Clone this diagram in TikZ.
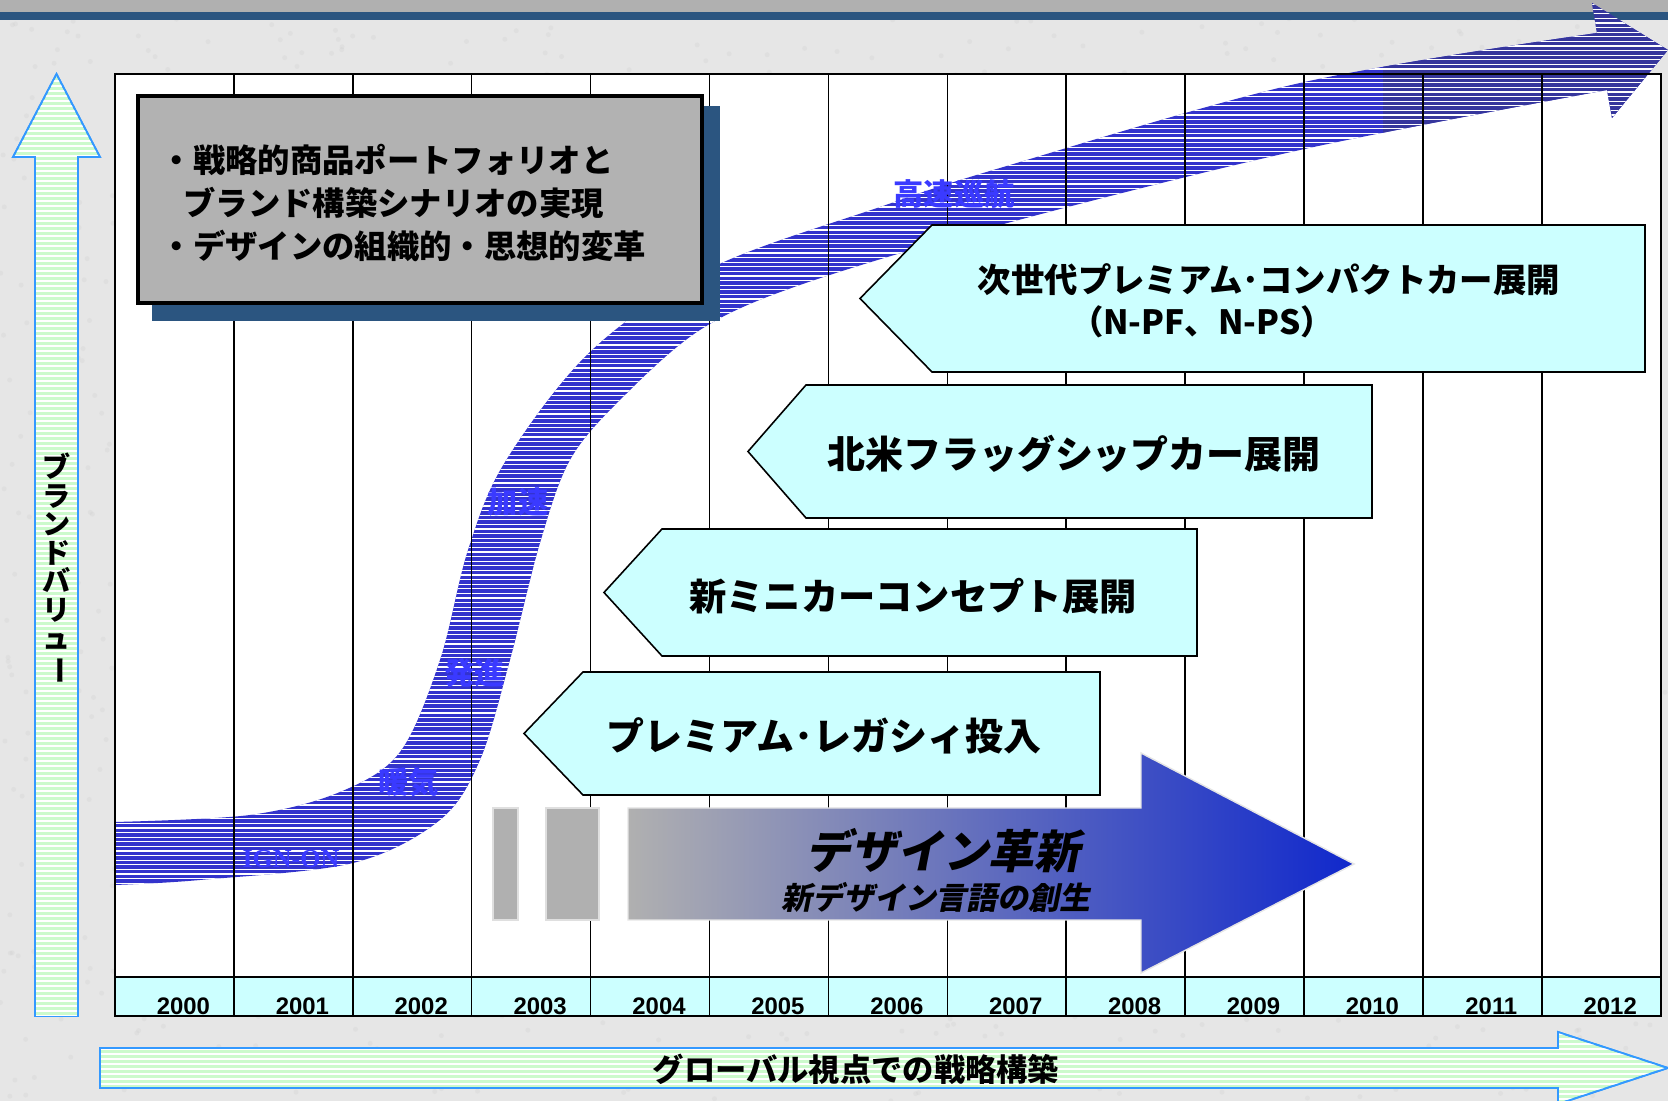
\documentclass[tikz,border=0pt]{standalone}
\usepackage{fontspec}
\setmainfont{Liberation Sans}
\newfontfamily\jp{Noto Sans CJK JP}
\newfontfamily\jpit{Noto Sans CJK JP}[FakeSlant=0.2]
\newfontfamily\romanfont{Liberation Serif}
\usepackage{graphicx}
\usepackage{tikz}
\definecolor{bgGray}{RGB}{230,230,230}
\definecolor{barGray}{RGB}{176,176,176}
\definecolor{barNavy}{RGB}{43,85,128}
\definecolor{valGreen}{RGB}{204,250,204}
\definecolor{valEdge}{RGB}{51,153,255}
\definecolor{stepCyan}{RGB}{204,255,255}
\definecolor{bandBlue}{RGB}{51,51,204}
\definecolor{bandDark}{RGB}{54,54,156}
\definecolor{bandText}{RGB}{58,58,255}
\definecolor{boxGray}{RGB}{178,178,178}
\definecolor{designBlue}{RGB}{16,40,204}

\def\bandpath{plot[smooth, tension=0.55] coordinates {(115,822) (250,815) (340,792) (400,752) (440,660) (468,550) (505,462) (591,351) (711,268) (880,207) (1000,168) (1300,83) (1597,33)}
  -- (1592,3) -- (1668,50) -- (1612,118) -- (1607,90)
  -- plot[smooth, tension=0.55] coordinates {(1607,90) (1300,150) (1000,225) (800,285) (700,330) (620,400) (570,460) (540,543) (510,660) (480,760) (440,820) (353,863) (200,880) (115,885)} -- cycle}

\begin{document}
\begin{tikzpicture}[x=0.01cm, y=-0.01cm,
  yearlab/.style={inner sep=0pt, font=\bfseries\fontsize{6.8}{8}\selectfont},
  steparrow/.style={draw=black, line width=0.45pt, fill=stepCyan},
  steplab/.style={inner sep=0pt, align=center, font=\jp\bfseries\fontsize{#1}{#1}\selectfont},
  bandlab/.style={inner sep=0pt, text=bandText, font=\jp\bfseries\fontsize{8.6}{9}\selectfont},
  valuearrow/.style={fill=valGreen, draw=valEdge, line width=0.5pt}]
  \useasboundingbox (0,0) rectangle (1668,1101);
  % --- background and top bar ---------------------------------------------
  \fill[bgGray] (0,0) rectangle (1668,1101);
  \pgfmathsetseed{11}
  \foreach \k in {1,...,1800} {
     \fill[gray!40, opacity=0.25] ({rnd*1668},{rnd*1101}) circle (2.5);
  }
  \fill[barGray] (0,0) rectangle (1668,12);
  \fill[barNavy] (0,12) rectangle (1668,20);
  % --- chart area and year row ---------------------------------------------
  \fill[white] (115,74) rectangle (1661,977);
  \fill[stepCyan] (115,977) rectangle (1661,1016);
  % --- the brand value curve (striped band) --------------------------------
  \fill[bandBlue] \bandpath;
  \begin{scope}
     \clip (1383,0) rectangle (1668,400);
     \fill[bandDark] \bandpath;
  \end{scope}
  \begin{scope}
     \clip \bandpath;
     \draw[white, line width=0.35pt] \foreach \yy in {0,4.6,...,900} { (100,\yy) -- (1668,\yy) };
  \end{scope}
  % --- grid lines and years ------------------------------------------------
  \foreach \i in {1,...,12} {
     \draw[line width=0.45pt] ({115+\i*118.9},74) -- ({115+\i*118.9},1016);
  }
  \draw[line width=0.6pt] (115,74) rectangle (1661,1016);
  \draw[line width=0.6pt] (115,977) -- (1661,977);
  \foreach \i in {0,...,12} {
     \pgfmathtruncatemacro{\yr}{2000+\i}
     \node[yearlab] (y\yr) at ({124+(\i+0.5)*118.9},1006) {\yr};
  }
  % --- axis arrows ---------------------------------------------------------
  \path[valuearrow] (35,1016) -- (35,157) -- (13,157) -- (56.5,74) -- (100,157) -- (78,157) -- (78,1016) -- cycle;
  \begin{scope}
     \clip (35,1016) -- (35,157) -- (13,157) -- (56.5,74) -- (100,157) -- (78,157) -- (78,1016) -- cycle;
     \draw[white, line width=0.3pt] \foreach \yy in {76,81,...,1016} { (0,\yy) -- (110,\yy) };
  \end{scope}
  \draw[valEdge, line width=0.5pt] (35,1016) -- (35,157) -- (13,157) -- (56.5,74) -- (100,157) -- (78,157) -- (78,1016);
  \node[inner sep=0pt, align=center, font=\jp\bfseries\fontsize{8}{8.1}\selectfont] (brandval) at (56.5,569)
     {ブ\\ラ\\ン\\ド\\バ\\リ\\ュ\\\rotatebox[origin=c]{-90}{ー}};
  \path[valuearrow] (100,1048) -- (1558,1048) -- (1558,1032) -- (1668,1068) -- (1558,1104) -- (1558,1088) -- (100,1088) -- cycle;
  \begin{scope}
     \clip (100,1048) -- (1558,1048) -- (1558,1032) -- (1668,1068) -- (1558,1104) -- (1558,1088) -- (100,1088) -- cycle;
     \draw[white, line width=0.3pt] \foreach \yy in {1034,1039,...,1104} { (90,\yy) -- (1668,\yy) };
  \end{scope}
  \draw[valEdge, line width=0.5pt] (100,1048) -- (1558,1048) -- (1558,1032) -- (1668,1068) -- (1558,1104) -- (1558,1088) -- (100,1088) -- cycle;
  \node[inner sep=0pt, font=\jp\bfseries\fontsize{8.9}{9}\selectfont] (global) at (856,1069) {グローバル視点での戦略構築};
  % --- goal box with shadow ------------------------------------------------
  \fill[barNavy] (152,106) rectangle (720,321);
  \filldraw[fill=boxGray, draw=black, line width=1.4pt] (138,96) rectangle (702,303);
  \node[anchor=west, inner sep=0pt, align=left, font=\jp\bfseries\fontsize{9.2}{12.3}\selectfont] (goal) at (160,203)
     {・戦略的商品ポートフォリオと\\\hspace{0.7em}ブランド構築シナリオの実現\\・デザインの組織的・思想的変革};
  % --- the four rollout steps ----------------------------------------------
  \foreach \tipx/\lx/\ty/\by/\rx in {860/932/225/372/1645, 748/806/385/518/1372, 604/662/529/656/1197, 524/583/672/795/1100} {
     \draw[steparrow] (\tipx,{(\ty+\by)/2}) -- (\lx,\ty) -- (\rx,\ty) -- (\rx,\by) -- (\lx,\by) -- cycle;
  }
  \node[steplab=9.5] (nextgen) at (1269,280) {次世代プレミアム･コンパクトカー展開};
  \node[steplab=9.5] (nextgensub) at (1202,322) {（N-PF、N-PS）};
  \node[steplab=10.8] (flagship) at (1074,454) {北米フラッグシップカー展開};
  \node[steplab=10.6] (minicar) at (913,596) {新ミニカーコンセプト展開};
  \node[steplab=10.8] (legacy) at (824,736) {プレミアム･レガシィ投入};
  % --- design innovation arrow ---------------------------------------------
  \filldraw[fill=barGray, draw=gray!25, line width=0.6pt] (493,808) rectangle (518,920);
  \filldraw[fill=barGray, draw=gray!25, line width=0.6pt] (546,808) rectangle (599,920);
  \shade[left color=barGray, right color=designBlue] (628,808) -- (1141,808) -- (1141,753) -- (1354,864) -- (1141,973) -- (1141,920) -- (628,920) -- cycle;
  \draw[gray!20, line width=0.4pt] (628,808) -- (1141,808) -- (1141,753) -- (1354,864) -- (1141,973) -- (1141,920) -- (628,920) -- cycle;
  \node[inner sep=0pt, font=\jpit\bfseries\fontsize{13}{13}\selectfont] (design) at (943,851) {デザイン革新};
  \node[inner sep=0pt, font=\jpit\bfseries\fontsize{8.8}{9}\selectfont] (designsub) at (936,897) {新デザイン言語の創生};
  % --- labels along the curve ----------------------------------------------
  \node[inner sep=0pt, text=bandText, font=\romanfont\bfseries\fontsize{7.4}{8}\selectfont] (ignon) at (291,859) {IGN-ON};
  \node[bandlab] (warmup) at (409,782) {暖気};
  \node[bandlab] (launch) at (475,673) {発進};
  \node[bandlab] (accel) at (518,502) {加速};
  \node[bandlab] (cruise) at (954,194) {高速巡航};
\end{tikzpicture}
\end{document}
